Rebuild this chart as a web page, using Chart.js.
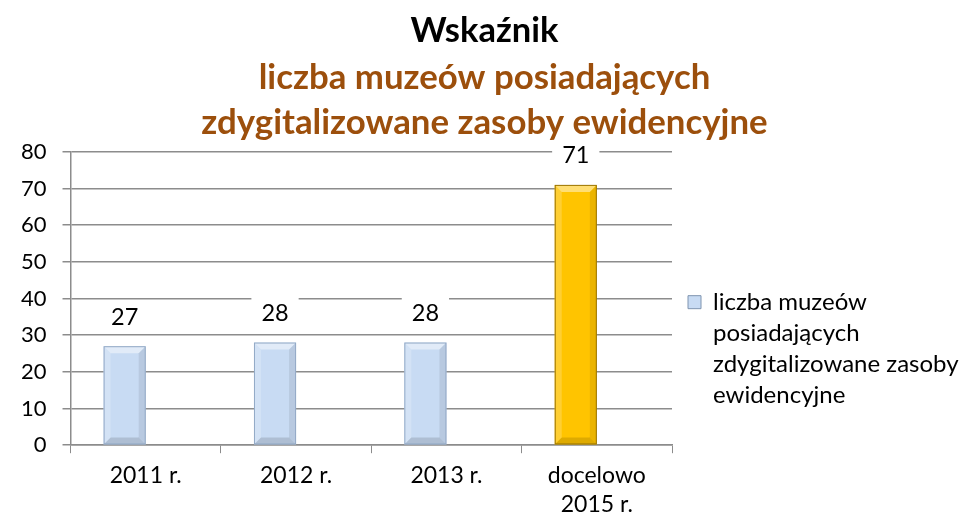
<!DOCTYPE html>
<html>
<head>
<meta charset="utf-8">
<script src="https://cdn.jsdelivr.net/npm/chart.js@4"></script>
<style>
  html, body { margin: 0; padding: 0; background: #fff; }
  #wrap { width: 968px; height: 523px; }
</style>
</head>
<body>
<div id="wrap"><canvas id="chart-1"></canvas></div>
<script>
const categories = [["2011 r."], ["2012 r."], ["2013 r."], ["docelowo", "2015 r."]];
const values = [27, 28, 28, 71];
// the source chart keeps an empty second series, which pushes the bars left
const emptySeries = [null, null, null, null];
const seriesName = ["liczba muzeów", "posiadających", "zdygitalizowane zasoby", "ewidencyjne"];
const titleText = "Wskaźnik";
const subtitleLines = ["liczba muzeów posiadających", "zdygitalizowane zasoby ewidencyjne"];

const barColors = ["#c8dbf3", "#c8dbf3", "#c8dbf3", "#ffc400"];
const barBorders = ["#93a9c6", "#93a9c6", "#93a9c6", "#9a7400"];

const font = "Lato";

// fixed width for the right-hand legend so the wrapped text fits
const legendWidth = {
  id: "legendWidth",
  afterInit(chart) {
    const lg = chart.legend;
    const fit = lg.fit.bind(lg);
    lg.fit = function () {
      fit();
      this.width = 292;
    };
  }
};

// bevel shading over the bars, plus value labels on white boxes
const bevelPlugin = {
  id: "bevel",
  afterDatasetsDraw(chart) {
    const ctx = chart.ctx;
    const meta = chart.getDatasetMeta(0);
    meta.data.forEach((bar, i) => {
      const left = bar.x - bar.width / 2;
      const right = bar.x + bar.width / 2;
      const top = bar.y;
      const bottom = bar.base;
      const b = 7;
      ctx.save();
      // top face
      ctx.fillStyle = "rgba(255,255,255,0.45)";
      ctx.beginPath();
      ctx.moveTo(left, top); ctx.lineTo(right, top);
      ctx.lineTo(right - b, top + b); ctx.lineTo(left + b, top + b);
      ctx.closePath(); ctx.fill();
      // left face
      ctx.fillStyle = "rgba(255,255,255,0.2)";
      ctx.beginPath();
      ctx.moveTo(left, top); ctx.lineTo(left + b, top + b);
      ctx.lineTo(left + b, bottom - b); ctx.lineTo(left, bottom);
      ctx.closePath(); ctx.fill();
      // right face
      ctx.fillStyle = "rgba(0,0,0,0.08)";
      ctx.beginPath();
      ctx.moveTo(right, top); ctx.lineTo(right - b, top + b);
      ctx.lineTo(right - b, bottom - b); ctx.lineTo(right, bottom);
      ctx.closePath(); ctx.fill();
      // bottom face
      ctx.fillStyle = "rgba(0,0,0,0.13)";
      ctx.beginPath();
      ctx.moveTo(left, bottom); ctx.lineTo(right, bottom);
      ctx.lineTo(right - b, bottom - b); ctx.lineTo(left + b, bottom - b);
      ctx.closePath(); ctx.fill();
      ctx.strokeStyle = barBorders[i];
      ctx.lineWidth = 1;
      ctx.strokeRect(left + 0.5, top + 0.5, bar.width - 1, bottom - top - 1);

      // value label
      const txt = String(values[i]);
      ctx.font = "23.5px " + font;
      const w = ctx.measureText(txt).width;
      const cy = top - 29;
      ctx.fillStyle = "#fff";
      ctx.fillRect(bar.x - w / 2 - 10, cy - 16, w + 20, 32);
      ctx.fillStyle = "#000";
      ctx.textAlign = "center";
      ctx.textBaseline = "middle";
      ctx.fillText(txt, bar.x, cy);
      ctx.restore();
    });
  }
};

const ctx1 = document.getElementById("chart-1").getContext("2d");
const myChart = new Chart(ctx1, {
  type: "bar",
  data: {
    labels: categories,
    datasets: [
      {
        label: seriesName,
        data: values,
        backgroundColor: barColors,
        borderWidth: 0,
        barPercentage: 1,
        categoryPercentage: 0.56,
      },
      {
        label: "",
        data: emptySeries,
        backgroundColor: "#000",
        borderWidth: 0,
        barPercentage: 1,
        categoryPercentage: 0.56,
      },
    ],
  },
  options: {
    responsive: true,
    maintainAspectRatio: false,
    animation: false,
    layout: { padding: { left: 5, right: 4, top: 0, bottom: -4 } },
    plugins: {
      title: {
        display: true,
        text: titleText,
        color: "#000",
        font: { family: font, size: 34.5, weight: "bold", lineHeight: 1.2 },
        padding: { top: 10, bottom: 4 },
      },
      subtitle: {
        display: true,
        text: subtitleLines,
        color: "#9c4f0c",
        font: { family: font, size: 34.8, weight: "bold", lineHeight: 1.3 },
        padding: { top: 0, bottom: 6 },
      },
      legend: {
        position: "right",
        align: "center",
        title: {
          display: true,
          text: " ",
          font: { size: 1 },
          padding: { top: 176, bottom: 0 },
        },
        labels: {
          color: "#000",
          font: { family: font, size: 24, lineHeight: 1.29 },
          boxWidth: 13,
          boxHeight: 13,
          padding: 16,
          generateLabels: () => [
            {
              text: seriesName,
              fillStyle: "#c8dbf3",
              strokeStyle: "#7f94b0",
              fontColor: "#000",
              lineWidth: 1,
              datasetIndex: 0,
            },
          ],
        },
      },
      tooltip: { enabled: false },
    },
    scales: {
      x: {
        grid: {
          display: true,
          drawOnChartArea: false,
          offset: true,
          color: "#8c8c8c",
          tickLength: 8,
        },
        border: { color: "#8c8c8c", width: 1.5 },
        ticks: {
          color: "#000",
          font: { family: font, size: 23, lineHeight: 1.3 },
          maxRotation: 0,
          padding: 7,
        },
      },
      y: {
        min: 0,
        max: 80,
        ticks: {
          stepSize: 10,
          color: "#000",
          font: { family: font, size: 22 },
          padding: 16,
        },
        grid: { color: "#8c8c8c", lineWidth: 1.5, tickLength: 8 },
        border: { color: "#8c8c8c", width: 1.5 },
      },
    },
  },
  plugins: [legendWidth, bevelPlugin],
});
</script>
</body>
</html>
